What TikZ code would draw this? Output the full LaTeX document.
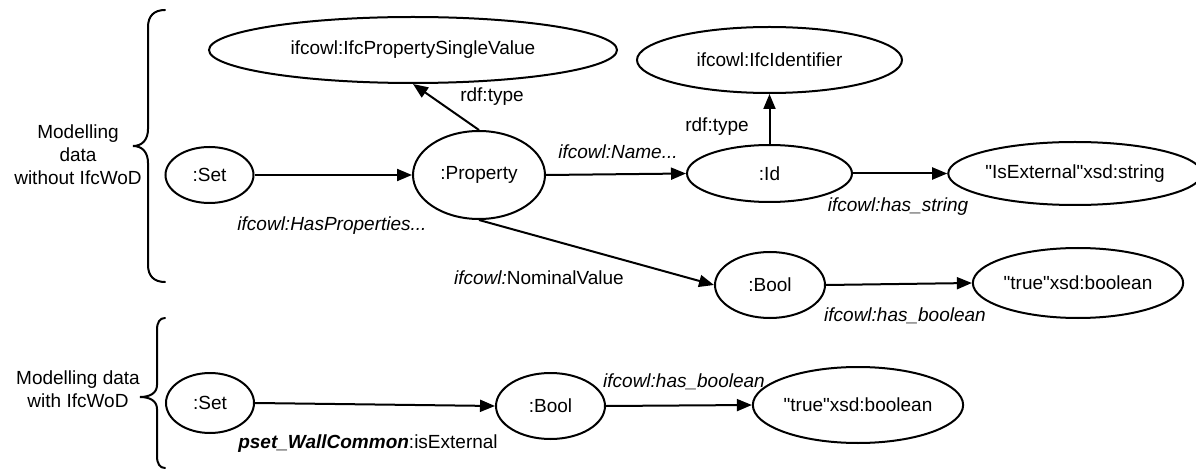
\documentclass[tikz,border=0pt]{standalone}
\usepackage{fontspec}
\setmainfont{Liberation Sans}[Ligatures=TeXOff]
\usetikzlibrary{arrows.meta,shapes.geometric}
\begin{document}
\begin{tikzpicture}[x=1pt,y=-1pt,
  every node/.style={font=\fontsize{19}{23}\selectfont},
  ell/.style={draw,line width=2pt,ellipse,inner sep=0pt},
  conn/.style={line width=2pt,-{Triangle[length=15pt,width=12pt]}},
  lbl/.style={inner sep=0pt,align=center},
  bracepath/.style={line width=2pt,line cap=round}]
\useasboundingbox[fill=white] (0,0) rectangle (1196,470);

% nodes
\node[ell,minimum width=408pt,minimum height=66pt] (psv) at (413,50) {ifcowl:IfcPropertySingleValue};
\node[ell,minimum width=265pt,minimum height=66pt] (ifcid) at (769.5,60) {ifcowl:IfcIdentifier};
\node[ell,minimum width=88pt,minimum height=56pt] (set1) at (209.5,175) {:Set};
\node[ell,minimum width=132pt,minimum height=88pt] (prop) at (479,175) {:Property};
\node[ell,minimum width=165pt,minimum height=57pt] (id) at (769.5,173.5) {:Id};
\node[ell,minimum width=238pt,minimum height=63pt] (ext) at (1075,173.5) {"IsExternal"xsd:string};
\node[ell,minimum width=110pt,minimum height=66pt] (bool1) at (770,285) {:Bool};
\node[ell,minimum width=198pt,minimum height=70pt] (true1) at (1078,283) {"true"xsd:boolean};
\node[ell,minimum width=88pt,minimum height=60pt] (set2) at (210,403) {:Set};
\node[ell,minimum width=109pt,minimum height=66pt] (bool2) at (550.5,406) {:Bool};
\node[ell,minimum width=200pt,minimum height=76pt] (true2) at (858,405) {"true"xsd:boolean};

% connectors
\draw[conn] (set1.east) -- (prop.west);
\draw[conn] (prop.north) -- (psv.south);
\draw[conn] (prop.east) -- (id.west);
\draw[conn] (id.north) -- (ifcid.south);
\draw[conn] (id.east) -- (ext.west);
\draw[conn] (prop.south) -- (bool1.west);
\draw[conn] (bool1.east) -- (true1.west);
\draw[conn] (set2.east) -- (bool2.west);
\draw[conn] (bool2.east) -- (true2.west);

% connector labels
\node[lbl] (l1) at (492,97) {rdf:type};
\node[lbl] (l2) at (332,226) {\itshape ifcowl:HasProperties...};
\node[lbl] (l3) at (618,152) {\itshape ifcowl:Name...};
\node[lbl] (l4) at (717,127) {rdf:type};
\node[lbl] (l5) at (898,207) {\itshape ifcowl:has\_string};
\node[lbl] (l6) at (539,278) {\itshape ifcowl:\upshape NominalValue};
\node[lbl] (l7) at (905,316) {\itshape ifcowl:has\_boolean};
\node[lbl] (l8) at (684,382) {\itshape ifcowl:has\_boolean};
\node[lbl] (l9) at (368,444) {\bfseries\itshape pset\_WallCommon\mdseries\upshape:isExternal};

% group labels
\node[lbl] (g1) at (78,155) {Modelling\\data\\without IfcWoD};
\node[lbl] (g2) at (78,389.5) {Modelling data\\with IfcWoD};

% braces
\draw[bracepath] (165,10) .. controls (154,10) and (148,16) .. (148,27) -- (148,129)
  .. controls (148,140) and (142,146) .. (133,146)
  .. controls (142,146) and (148,152) .. (148,163) -- (148,265)
  .. controls (148,276) and (154,282) .. (165,282);
\draw[bracepath] (165,318) .. controls (160,318) and (157,322) .. (157,330) -- (157,385)
  .. controls (157,393) and (150,397) .. (140,397)
  .. controls (150,397) and (157,401) .. (157,409) -- (157,456)
  .. controls (157,464) and (160,468) .. (165,468);
\end{tikzpicture}
\end{document}
